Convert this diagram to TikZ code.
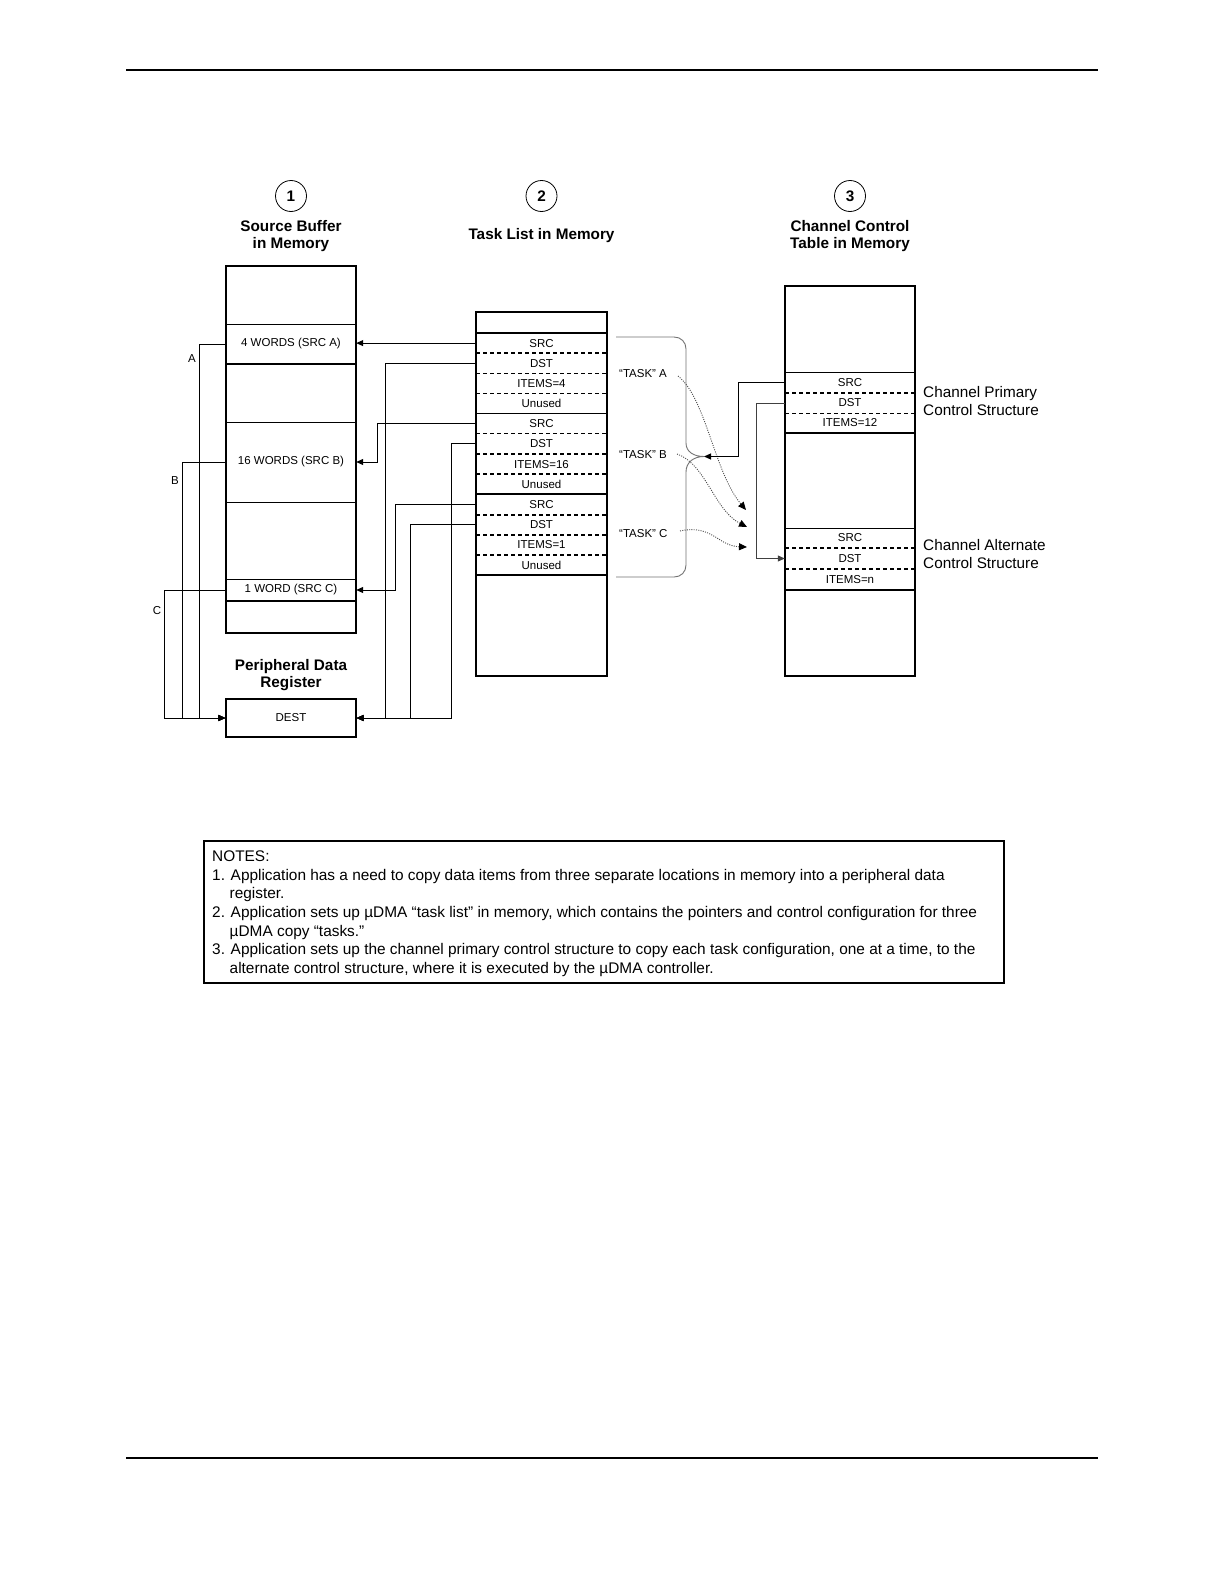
\documentclass[tikz,border=0pt]{standalone}
\usepackage{fontspec}
\setmainfont{Liberation Sans}
\usetikzlibrary{arrows.meta,calc}
\begin{document}
\begin{tikzpicture}[x=1pt,y=-1pt,
 thk/.style={line width=2pt},
 thn/.style={line width=1pt},
 dsh/.style={dash pattern=on 4pt off 3pt},
 cell/.style={font=\fontsize{11.5}{13}\selectfont, inner sep=0pt, minimum height=20pt},
 tcell/.style={cell, minimum width=131pt},
 scell/.style={cell, minimum width=130pt},
 lbl/.style={font=\fontsize{11.5}{13}\selectfont, inner sep=0pt},
 head/.style={font=\bfseries\fontsize{15.3}{17.5}\selectfont, align=center, inner sep=0pt},
 side/.style={font=\fontsize{15.3}{18}\selectfont, align=left, inner sep=0pt, anchor=west},
 circ/.style={draw, circle, line width=0.8pt, minimum size=31pt, inner sep=0pt, font=\bfseries\fontsize{15.3}{17}\selectfont},
 conn/.style={line width=1pt, -{Triangle[length=7pt,width=6pt]}},
 dotarr/.style={line width=0.9pt, black!70, dash pattern=on 1pt off 1.3pt, -{Triangle[length=8pt,width=7pt,black]}},
 brace/.style={line width=0.9pt, black!55},
 note/.style={font=\fontsize{15.4}{17}\selectfont, inner sep=0pt, anchor=base west}
]
\path[fill=white, use as bounding box] (0,0) rectangle (1224,1584);

% page rules
\draw[line width=2pt] (126,70.5) -- (1098,70.5);
\draw[line width=2pt] (126,1458) -- (1098,1458);

% headings
\node[circ] (c1) at (291,196) {1};
\node[circ] (c2) at (541.5,196) {2};
\node[circ] (c3) at (850,196) {3};
\node[head] (h1) at (291,236) {Source Buffer\\in Memory};
\node[head] (h2) at (541.5,235.5) {Task List in Memory};
\node[head] (h3) at (850,236) {Channel Control\\Table in Memory};

% source buffer column
\draw[thk] (226,266) rectangle (356,633);
\draw[thn] (226,324) -- (356,324);
\draw[thk] (226,364) -- (356,364);
\draw[thn] (226,422) -- (356,422);
\draw[thn] (226,502) -- (356,502);
\draw[thn] (226,579) -- (356,579);
\draw[thk] (226,601) -- (356,601);
\node[scell] (sbA) at (291,344) {4 WORDS (SRC A)};
\node[scell] (sbB) at (291,462) {16 WORDS (SRC B)};
\node[scell] (sbC) at (291,590) {1 WORD (SRC C)};

% peripheral register
\node[head] (hp) at (291,675) {Peripheral Data\\Register};
\node[draw, line width=1.2pt, minimum width=130pt, minimum height=38pt, inner sep=0pt,
      font=\fontsize{11.5}{13}\selectfont] (dest) at (291,718) {DEST};

% task list column
\draw[thk] (476,312) rectangle (607,676);
\draw[thk] (476,333) -- (607,333);
\draw[thk,dsh] (476,353.2) -- (607,353.2);
\draw[thn,dsh] (476,373.3) -- (607,373.3);
\draw[thn,dsh] (476,393.5) -- (607,393.5);
\draw[thn] (476,413.7) -- (607,413.7);
\draw[thn,dsh] (476,433.9) -- (607,433.9);
\draw[thk,dsh] (476,454.0) -- (607,454.0);
\draw[thk,dsh] (476,474.2) -- (607,474.2);
\draw[thk] (476,494.4) -- (607,494.4);
\draw[thk,dsh] (476,514.5) -- (607,514.5);
\draw[thk,dsh] (476,534.7) -- (607,534.7);
\draw[thk,dsh] (476,554.9) -- (607,554.9);
\draw[thk] (476,575.0) -- (607,575.0);
\node[tcell] (tsrcA) at (541.5,343.1) {SRC};
\node[tcell] (tdstA) at (541.5,363.3) {DST};
\node[tcell] (titA) at (541.5,383.4) {ITEMS=4};
\node[tcell] (tunA) at (541.5,403.6) {Unused};
\node[tcell] (tsrcB) at (541.5,423.8) {SRC};
\node[tcell] (tdstB) at (541.5,443.9) {DST};
\node[tcell] (titB) at (541.5,464.1) {ITEMS=16};
\node[tcell] (tunB) at (541.5,484.3) {Unused};
\node[tcell] (tsrcC) at (541.5,504.5) {SRC};
\node[tcell] (tdstC) at (541.5,524.6) {DST};
\node[tcell] (titC) at (541.5,544.8) {ITEMS=1};
\node[tcell] (tunC) at (541.5,565.0) {Unused};

% channel control table
\draw[thk] (785,286) rectangle (915,676);
\draw[thn] (785,372) -- (915,372);
\draw[thk,dsh] (785,393) -- (915,393);
\draw[thn,dsh] (785,413) -- (915,413);
\draw[thk] (785,433) -- (915,433);
\draw[thn] (785,528) -- (915,528);
\draw[thk,dsh] (785,548) -- (915,548);
\draw[thk,dsh] (785,569) -- (915,569);
\draw[thk] (785,590) -- (915,590);
\node[scell] (cpS) at (850,382.5) {SRC};
\node[scell] (cpD) at (850,403) {DST};
\node[scell] (cpI) at (850,423) {ITEMS=12};
\node[scell] (caS) at (850,538) {SRC};
\node[scell] (caD) at (850,558.5) {DST};
\node[scell] (caI) at (850,579.5) {ITEMS=n};
\node[side] (sp) at (923,401.5) {Channel Primary\\Control Structure};
\node[side] (sa) at (923,554.5) {Channel Alternate\\Control Structure};

% connectors task list -> source / dest
\draw[conn] (tsrcA.west) -- (tsrcA.west -| sbA.east);
\draw[conn] (tdstA.west) -| (385,718) -- (dest.east);
\draw[conn] (tsrcB.west) -| (377,462) -- (sbB.east);
\draw[conn] (tdstB.west) -| (451,718) -- (dest.east);
\draw[conn] (tsrcC.west) -| (395,590) -- (sbC.east);
\draw[conn] (tdstC.west) -| (410,718) -- (dest.east);

% source -> dest
\draw[conn] (sbA.west) -| (199,718) -- (dest.west);
\draw[conn] (sbB.west) -| (182,718) -- (dest.west);
\draw[conn] (sbC.west) -| (164,718) -- (dest.west);
\node[lbl] (lA) at (192,359) {A};
\node[lbl] (lB) at (175,481) {B};
\node[lbl] (lC) at (157,611) {C};

% brace
\coordinate (btip) at (704,456.5);
\draw[brace] (616,337) -- (674,337) .. controls (681,337) and (686,342) .. (686,349)
  -- (686,443) .. controls (686,452) and (694,456.5) .. (btip)
  .. controls (694,456.5) and (686,462) .. (686,472)
  -- (686,565) .. controls (686,572) and (681,577) .. (674,577) -- (616,577);

% task labels
\node[lbl, anchor=west] (tkA) at (619,374) {“TASK” A};
\node[lbl, anchor=west] (tkB) at (619,454.5) {“TASK” B};
\node[lbl, anchor=west] (tkC) at (619,533.5) {“TASK” C};
\coordinate (tipA) at (746,510);
\coordinate (tipB) at (747,527);
\coordinate (tipC) at (747,547);
\draw[dotarr] (678,376) .. controls (706,398) and (714,472) .. (tipA);
\draw[dotarr] (677,454) .. controls (706,464) and (714,510) .. (tipB);
\draw[dotarr] (680,531) .. controls (712,524) and (718,546) .. (tipC);

% channel connectors
\draw[conn] (cpS.west) -| (738,456.5) -- (btip);
\draw[conn, black!75] (cpD.west) -| (756,558.5) -- (caD.west);

% notes
\draw[line width=1.5pt] (204,841) rectangle (1004,983);
\node[note] (n0) at (212,861) {NOTES:};
\node[note] (n1) at (212,880) {1. Application has a need to copy data items from three separate locations in memory into a peripheral data};
\node[note] (n2) at (229.5,898.5) {register.};
\node[note] (n3) at (212,917) {2. Application sets up µDMA “task list” in memory, which contains the pointers and control configuration for three};
\node[note] (n4) at (229.5,936) {µDMA copy “tasks.”};
\node[note] (n5) at (212,954.5) {3. Application sets up the channel primary control structure to copy each task configuration, one at a time, to the};
\node[note] (n6) at (229.5,973) {alternate control structure, where it is executed by the µDMA controller.};
\end{tikzpicture}
\end{document}
